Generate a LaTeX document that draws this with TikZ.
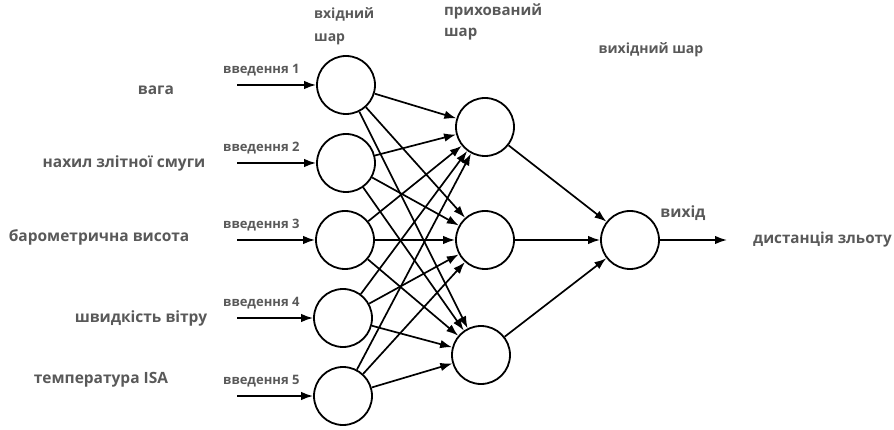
\documentclass[tikz,border=0pt]{standalone}
\usepackage{fontspec}
\setmainfont{Open Sans}
\usetikzlibrary{arrows.meta}
\begin{document}
\begin{tikzpicture}[>={Latex[length=12pt,width=8.5pt]},line join=round,x=1pt,y=-1pt,font=\bfseries\fontsize{15.5}{18}\selectfont,
	neuron/.style={draw,circle,line width=1.8pt,minimum size=58pt,inner sep=0pt},
	link/.style={->,line width=1.7pt},
	lbl/.style={text=black!65,inner sep=1pt}]
	\useasboundingbox (0,0) rectangle (894,430);
	%========================
	% layers
	\node[neuron] (in1) at (346,85) {};
	\node[neuron] (in2) at (346,163) {};
	\node[neuron] (in3) at (345,240) {};
	\node[neuron] (in4) at (343,318) {};
	\node[neuron] (in5) at (343,396) {};
	\node[neuron] (h1) at (485,127) {};
	\node[neuron] (h2) at (485,240) {};
	\node[neuron] (h3) at (481,355) {};
	\node[neuron] (out) at (630,240) {};
	%========================
	% inputs
	\foreach \i/\y in {1/85,2/163,3/240,4/318,5/396}{
		\coordinate (s\i) at (237,\y);
		\draw[link] (s\i) -- (in\i);
		\node[lbl,anchor=south west,font=\bfseries\fontsize{13}{15}\selectfont] (v\i) at (222,\y-8) {введення \i};
	}
	\node[lbl] (f1) at (156,90) {вага};
	\node[lbl] (f2) at (124,163) {нахил злітної смуги};
	\node[lbl] (f3) at (99,237) {барометрична висота};
	\node[lbl] (f4) at (141,318) {швидкість вітру};
	\node[lbl] (f5) at (101,380) {температура ISA};
	%========================
	% links
	\foreach \i in {1,...,5}
		\foreach \j in {1,2,3}
			\draw[link] (in\i) -- (h\j);
	\foreach \j in {1,2,3}
		\draw[link] (h\j) -- (out);
	\coordinate (e) at (727,240);
	\draw[link] (out) -- (e);
	\node[lbl,anchor=west,font=\bfseries\fontsize{15.2}{18}\selectfont] (res) at (752,240) {дистанція зльоту};
	\node[lbl] (vy) at (683,213) {вихід};
	%========================
	% layer titles
	\node[lbl,anchor=west,align=left,font=\bfseries\fontsize{14}{23}\selectfont] (t1) at (313,26) {вхідний\\шар};
	\node[lbl,anchor=west,align=left,font=\bfseries\fontsize{15}{21}\selectfont] (t2) at (443,22) {прихований\\шар};
	\node[lbl,font=\bfseries\fontsize{14}{16}\selectfont] (t3) at (651,50) {вихідний шар};
\end{tikzpicture}
\end{document}
